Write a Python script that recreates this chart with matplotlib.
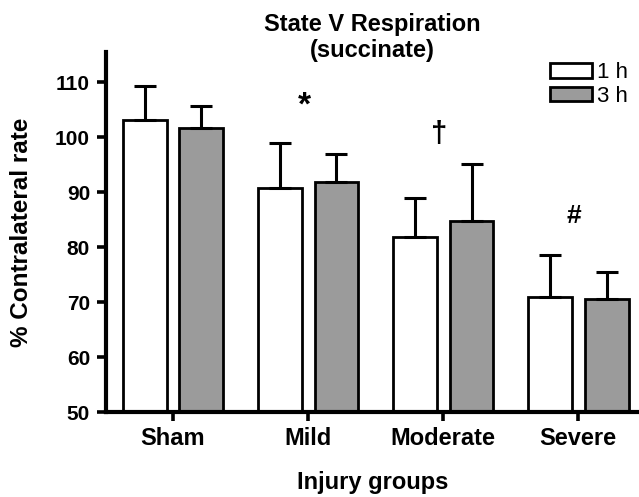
import numpy as np
import matplotlib.pyplot as plt
from matplotlib.patches import Patch

groups = ["Sham", "Mild", "Moderate", "Severe"]
mean_1h = [103.1, 90.7, 81.9, 71.0]
mean_3h = [101.7, 91.9, 84.8, 70.5]
err_1h = [6.2, 8.2, 7.1, 7.5]
err_3h = [3.9, 5.0, 10.3, 5.0]
marks = ["*", "\u2020", "#"]
mark_y = [105.6, 100.5, 85.6]

plt.rcParams['font.family'] = ['Liberation Sans', 'DejaVu Sans']

fig = plt.figure(figsize=(6.39, 4.97), dpi=100)
ax = fig.add_axes([0.166, 0.171, 0.834, 0.7243])

x = np.arange(len(groups))
w = 0.325
off = 0.21
gray = '#9b9b9b'
ekw = dict(elinewidth=2.2, capsize=8, capthick=2.2, ecolor='black')
zeros = np.zeros(len(groups))
ax.bar(x - off, np.array(mean_1h) - 50, w, bottom=50, color='white',
       edgecolor='black', linewidth=2.0, yerr=[zeros, err_1h],
       error_kw=ekw, zorder=2)
ax.bar(x + off, np.array(mean_3h) - 50, w, bottom=50, color=gray,
       edgecolor='black', linewidth=2.0, yerr=[zeros, err_3h],
       error_kw=ekw, zorder=2)

sizes = [24, 21, 19]
for i, m in enumerate(marks):
    ax.text(x[i + 1] - 0.03, mark_y[i], m, ha='center', va='center',
            fontsize=sizes[i], fontweight='bold')

ax.set_xlim(-0.496, 3.45)
ax.set_ylim(50, 115.5)
ax.set_yticks([50, 60, 70, 80, 90, 100, 110])
ax.set_xticks(x)
ax.set_xticklabels(groups, fontsize=17, fontweight='bold')
for lab in ax.get_yticklabels():
    lab.set_fontsize(15)
    lab.set_fontweight('bold')
ax.tick_params(axis='both', width=2.6, length=6.5, direction='out')
ax.tick_params(axis='y', pad=5)
ax.tick_params(axis='x', pad=4)

for s in ['top', 'right']:
    ax.spines[s].set_visible(False)
for s in ['left', 'bottom']:
    ax.spines[s].set_linewidth(3.0)

ax.set_ylabel('% Contralateral rate', fontsize=17.5, fontweight='bold', va='center')
ax.yaxis.set_label_coords(-0.158, 0.5)
ax.set_xlabel('Injury groups', fontsize=17, fontweight='bold', va='center')
ax.xaxis.set_label_coords(0.5, -0.197)

fig.text(372 / 639, 1 - 24 / 497, 'State V Respiration', fontsize=17,
         fontweight='bold', ha='center', va='center')
fig.text(372 / 639, 1 - 51 / 497, '(succinate)', fontsize=17,
         fontweight='bold', ha='center', va='center')

handles = [Patch(facecolor='white', edgecolor='black', linewidth=2.0, label='1 h'),
           Patch(facecolor=gray, edgecolor='black', linewidth=2.0, label='3 h')]
ax.legend(handles=handles, loc='upper left', bbox_to_anchor=((550 - 106) / 533, (412 - 62) / 360),
          frameon=False, fontsize=16, handlelength=1.9, handleheight=0.64,
          handletextpad=0.2, labelspacing=0.12, borderpad=0.0, borderaxespad=0.0)

fig.savefig('out.png', dpi=100)
